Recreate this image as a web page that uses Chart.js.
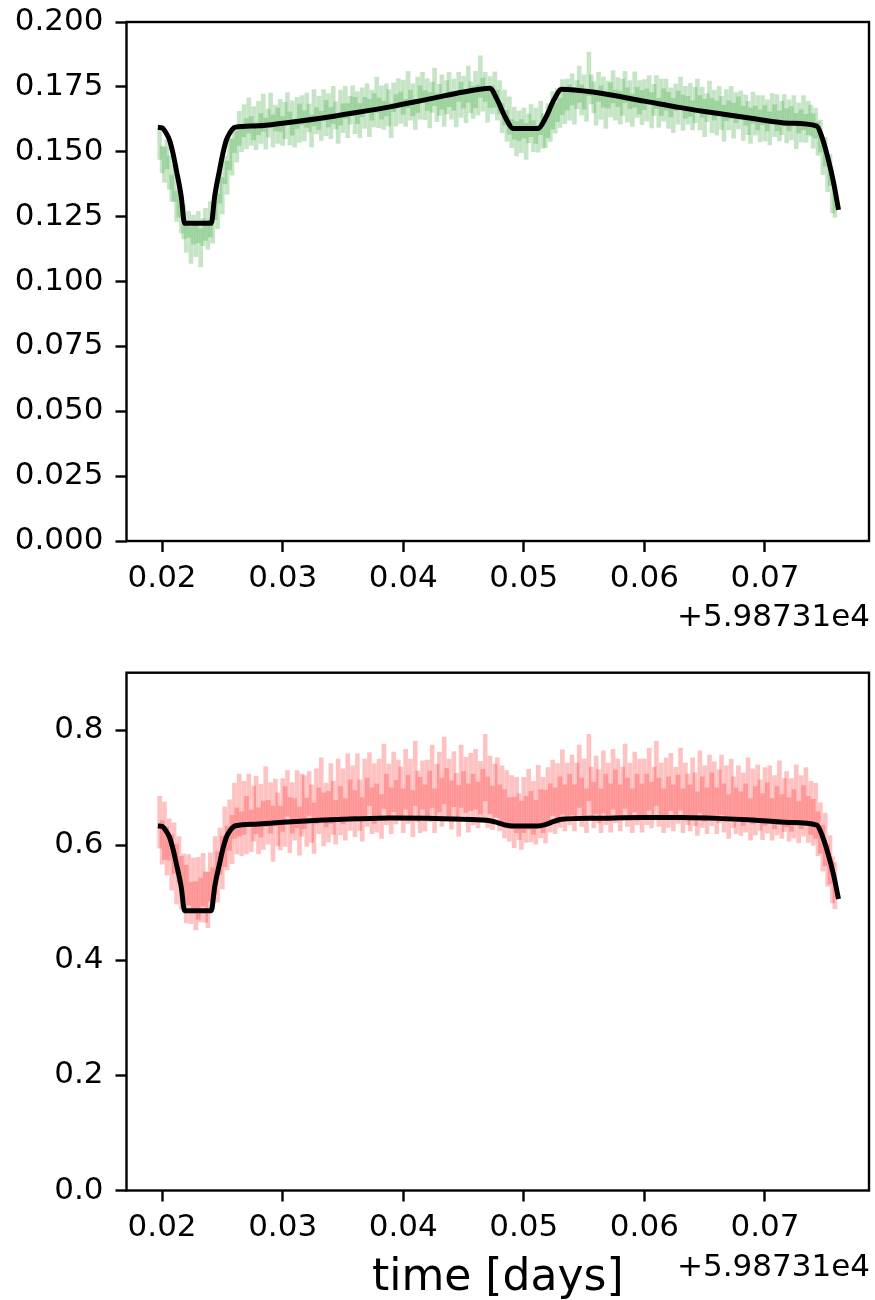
<!DOCTYPE html>
<html><head><meta charset="utf-8">
<script src="https://cdn.jsdelivr.net/npm/chart.js@4.4.0/dist/chart.umd.min.js"></script>
<style>
html,body{margin:0;padding:0;background:#fff;}
#wrap{position:relative;width:875px;height:1300px;}
canvas{position:absolute;left:0;}
</style></head><body>
<div id="wrap">
<canvas id="c1" width="875" height="650" style="top:0;width:875px;height:650px"></canvas>
<canvas id="c2" width="875" height="650" style="top:650px;width:875px;height:650px"></canvas>
</div>
<script>
// ---- data (time in days, offset +5.98731e4) ----
const TIME = [
0.0198,0.0200,0.0202,0.0204,0.0206,0.0208,0.0210,0.0212,0.0214,0.0216,
0.0218,0.0220,0.0222,0.0224,0.0226,0.0228,0.0230,0.0232,0.0234,0.0236,
0.0238,0.0240,0.0242,0.0244,0.0246,0.0248,0.0250,0.0252,0.0254,0.0256,
0.0258,0.0260,0.0262,0.0264,0.0266,0.0268,0.0270,0.0272,0.0274,0.0276,
0.0278,0.0280,0.0282,0.0284,0.0286,0.0288,0.0290,0.0292,0.0294,0.0296,
0.0298,0.0300,0.0302,0.0304,0.0306,0.0308,0.0310,0.0312,0.0314,0.0316,
0.0318,0.0320,0.0322,0.0324,0.0326,0.0328,0.0330,0.0332,0.0334,0.0336,
0.0338,0.0340,0.0342,0.0344,0.0346,0.0348,0.0350,0.0352,0.0354,0.0356,
0.0358,0.0360,0.0362,0.0364,0.0366,0.0368,0.0370,0.0372,0.0374,0.0376,
0.0378,0.0380,0.0382,0.0384,0.0386,0.0388,0.0390,0.0392,0.0394,0.0396,
0.0398,0.0400,0.0402,0.0404,0.0406,0.0408,0.0410,0.0412,0.0414,0.0416,
0.0418,0.0420,0.0422,0.0424,0.0426,0.0428,0.0430,0.0432,0.0434,0.0436,
0.0438,0.0440,0.0442,0.0444,0.0446,0.0448,0.0450,0.0452,0.0454,0.0456,
0.0458,0.0460,0.0462,0.0464,0.0466,0.0468,0.0470,0.0472,0.0474,0.0476,
0.0478,0.0480,0.0482,0.0484,0.0486,0.0488,0.0490,0.0492,0.0494,0.0496,
0.0498,0.0500,0.0502,0.0504,0.0506,0.0508,0.0510,0.0512,0.0514,0.0516,
0.0518,0.0520,0.0522,0.0524,0.0526,0.0528,0.0530,0.0532,0.0534,0.0536,
0.0538,0.0540,0.0542,0.0544,0.0546,0.0548,0.0550,0.0552,0.0554,0.0556,
0.0558,0.0560,0.0562,0.0564,0.0566,0.0568,0.0570,0.0572,0.0574,0.0576,
0.0578,0.0580,0.0582,0.0584,0.0586,0.0588,0.0590,0.0592,0.0594,0.0596,
0.0598,0.0600,0.0602,0.0604,0.0606,0.0608,0.0610,0.0612,0.0614,0.0616,
0.0618,0.0620,0.0622,0.0624,0.0626,0.0628,0.0630,0.0632,0.0634,0.0636,
0.0638,0.0640,0.0642,0.0644,0.0646,0.0648,0.0650,0.0652,0.0654,0.0656,
0.0658,0.0660,0.0662,0.0664,0.0666,0.0668,0.0670,0.0672,0.0674,0.0676,
0.0678,0.0680,0.0682,0.0684,0.0686,0.0688,0.0690,0.0692,0.0694,0.0696,
0.0698,0.0700,0.0702,0.0704,0.0706,0.0708,0.0710,0.0712,0.0714,0.0716,
0.0718,0.0720,0.0722,0.0724,0.0726,0.0728,0.0730,0.0732,0.0734,0.0736,
0.0738,0.0740,0.0742,0.0744,0.0746,0.0748,0.0750,0.0752,0.0754,0.0756,
0.0758];

const GREEN_FLUX = [
0.153,0.147,0.145,0.149,0.142,0.136,0.138,0.129,0.131,0.124,
0.123,0.117,0.122,0.114,0.120,0.116,0.121,0.113,0.119,0.122,
0.118,0.124,0.121,0.129,0.127,0.136,0.133,0.143,0.140,0.149,
0.148,0.155,0.152,0.159,0.155,0.162,0.157,0.164,0.158,0.161,
0.156,0.163,0.159,0.165,0.157,0.161,0.166,0.158,0.163,0.160,
0.164,0.158,0.162,0.167,0.159,0.163,0.157,0.165,0.161,0.166,
0.160,0.166,0.163,0.158,0.167,0.162,0.165,0.160,0.168,0.163,
0.166,0.161,0.168,0.164,0.159,0.167,0.163,0.169,0.162,0.166,
0.170,0.164,0.167,0.162,0.169,0.165,0.171,0.163,0.168,0.166,
0.172,0.165,0.169,0.164,0.170,0.167,0.162,0.171,0.166,0.173,
0.167,0.171,0.165,0.174,0.168,0.170,0.164,0.172,0.169,0.175,
0.168,0.172,0.166,0.171,0.175,0.167,0.170,0.173,0.165,0.171,
0.174,0.168,0.172,0.166,0.175,0.170,0.173,0.167,0.176,0.171,
0.169,0.174,0.170,0.179,0.172,0.175,0.168,0.173,0.170,0.174,
0.168,0.171,0.163,0.167,0.160,0.164,0.157,0.161,0.155,0.160,
0.156,0.161,0.154,0.159,0.162,0.156,0.160,0.155,0.163,0.158,
0.157,0.162,0.160,0.166,0.163,0.168,0.165,0.171,0.167,0.172,
0.169,0.174,0.167,0.172,0.176,0.170,0.173,0.168,0.180,0.174,
0.171,0.167,0.175,0.169,0.173,0.166,0.172,0.170,0.175,0.168,
0.173,0.167,0.171,0.175,0.168,0.172,0.166,0.174,0.169,0.171,
0.167,0.172,0.168,0.174,0.166,0.170,0.173,0.165,0.171,0.168,
0.172,0.166,0.169,0.164,0.171,0.167,0.173,0.165,0.169,0.166,
0.170,0.164,0.168,0.172,0.165,0.169,0.163,0.167,0.171,0.164,
0.168,0.163,0.170,0.165,0.161,0.168,0.164,0.169,0.162,0.167,
0.165,0.168,0.161,0.166,0.163,0.160,0.167,0.162,0.165,0.160,
0.166,0.161,0.164,0.159,0.167,0.162,0.165,0.160,0.163,0.166,
0.160,0.164,0.161,0.166,0.158,0.163,0.160,0.165,0.159,0.163,
0.162,0.158,0.161,0.155,0.156,0.148,0.150,0.141,0.143,0.133,
0.131];

const GREEN_ERR = [
0.0060,0.0052,0.0068,0.0056,0.0064,0.0050,0.0072,0.0058,0.0062,0.0054,
0.0066,0.0058,0.0050,0.0070,0.0056,0.0064,0.0060,0.0074,0.0052,0.0062,
0.0056,0.0068,0.0062,0.0052,0.0066,0.0058,0.0070,0.0054,0.0064,0.0060,
0.0070,0.0054,0.0060,0.0066,0.0050,0.0062,0.0058,0.0068,0.0056,0.0064,
0.0052,0.0064,0.0058,0.0072,0.0060,0.0054,0.0066,0.0062,0.0050,0.0068,
0.0062,0.0056,0.0070,0.0058,0.0064,0.0066,0.0052,0.0060,0.0074,0.0056,
0.0058,0.0066,0.0054,0.0062,0.0070,0.0050,0.0064,0.0056,0.0060,0.0068,
0.0064,0.0060,0.0072,0.0052,0.0058,0.0068,0.0056,0.0062,0.0066,0.0054,
0.0054,0.0070,0.0062,0.0066,0.0056,0.0060,0.0052,0.0072,0.0058,0.0064,
0.0068,0.0058,0.0064,0.0054,0.0062,0.0070,0.0066,0.0056,0.0060,0.0052,
0.0060,0.0066,0.0052,0.0070,0.0058,0.0062,0.0054,0.0068,0.0064,0.0056,
0.0056,0.0062,0.0068,0.0058,0.0072,0.0054,0.0060,0.0066,0.0052,0.0064,
0.0066,0.0054,0.0060,0.0064,0.0056,0.0068,0.0062,0.0058,0.0070,0.0060,
0.0062,0.0070,0.0058,0.0080,0.0064,0.0056,0.0066,0.0060,0.0054,0.0068,
0.0058,0.0064,0.0056,0.0068,0.0060,0.0072,0.0054,0.0062,0.0066,0.0058,
0.0064,0.0058,0.0070,0.0056,0.0062,0.0060,0.0068,0.0052,0.0064,0.0066,
0.0054,0.0066,0.0060,0.0072,0.0058,0.0064,0.0056,0.0068,0.0062,0.0060,
0.0068,0.0060,0.0064,0.0054,0.0070,0.0058,0.0066,0.0062,0.0084,0.0056,
0.0060,0.0068,0.0056,0.0064,0.0058,0.0070,0.0052,0.0066,0.0062,0.0058,
0.0056,0.0064,0.0070,0.0060,0.0066,0.0054,0.0062,0.0068,0.0058,0.0064,
0.0066,0.0058,0.0062,0.0054,0.0068,0.0060,0.0064,0.0056,0.0070,0.0062,
0.0060,0.0070,0.0056,0.0066,0.0052,0.0064,0.0058,0.0068,0.0062,0.0054,
0.0064,0.0056,0.0068,0.0060,0.0066,0.0058,0.0072,0.0054,0.0062,0.0066,
0.0058,0.0066,0.0052,0.0064,0.0070,0.0060,0.0056,0.0062,0.0068,0.0058,
0.0062,0.0054,0.0066,0.0058,0.0064,0.0068,0.0060,0.0056,0.0066,0.0062,
0.0056,0.0068,0.0060,0.0064,0.0054,0.0062,0.0070,0.0058,0.0064,0.0060,
0.0066,0.0060,0.0064,0.0056,0.0068,0.0058,0.0062,0.0066,0.0054,0.0064,
0.0060,0.0066,0.0058,0.0064,0.0062,0.0068,0.0056,0.0064,0.0060,0.0066,
0.0062];

const RED_FLUX = [
0.640,0.605,0.625,0.590,0.610,0.570,0.595,0.550,0.575,0.535,
0.545,0.515,0.540,0.500,0.530,0.495,0.525,0.505,0.540,0.510,
0.505,0.545,0.525,0.565,0.545,0.590,0.570,0.615,0.595,0.635,
0.610,0.660,0.625,0.670,0.620,0.665,0.635,0.680,0.625,0.655,
0.670,0.625,0.660,0.635,0.685,0.640,0.665,0.620,0.675,0.645,
0.630,0.670,0.650,0.690,0.635,0.665,0.645,0.680,0.625,0.670,
0.675,0.640,0.690,0.655,0.630,0.685,0.660,0.700,0.645,0.670,
0.650,0.690,0.665,0.640,0.700,0.660,0.685,0.645,0.705,0.670,
0.690,0.655,0.705,0.670,0.645,0.700,0.675,0.715,0.660,0.690,
0.665,0.700,0.650,0.720,0.680,0.695,0.660,0.710,0.675,0.700,
0.690,0.660,0.715,0.680,0.700,0.655,0.725,0.685,0.670,0.705,
0.665,0.700,0.685,0.720,0.660,0.695,0.710,0.675,0.730,0.690,
0.700,0.670,0.715,0.685,0.660,0.720,0.690,0.705,0.665,0.710,
0.680,0.715,0.670,0.700,0.690,0.735,0.675,0.705,0.665,0.695,
0.700,0.665,0.690,0.655,0.680,0.645,0.675,0.640,0.670,0.650,
0.635,0.670,0.645,0.680,0.650,0.665,0.640,0.685,0.655,0.670,
0.650,0.685,0.665,0.700,0.660,0.690,0.675,0.710,0.665,0.695,
0.680,0.705,0.665,0.695,0.720,0.675,0.700,0.660,0.735,0.690,
0.670,0.705,0.685,0.660,0.710,0.680,0.695,0.665,0.715,0.685,
0.700,0.665,0.690,0.720,0.675,0.695,0.660,0.710,0.680,0.700,
0.665,0.700,0.680,0.715,0.670,0.690,0.725,0.675,0.695,0.660,
0.700,0.675,0.710,0.665,0.690,0.680,0.715,0.660,0.695,0.680,
0.665,0.700,0.680,0.655,0.710,0.675,0.690,0.660,0.705,0.680,
0.695,0.660,0.685,0.705,0.665,0.690,0.650,0.700,0.675,0.660,
0.690,0.655,0.680,0.665,0.700,0.645,0.685,0.660,0.690,0.670,
0.650,0.685,0.665,0.690,0.645,0.675,0.660,0.695,0.650,0.670,
0.680,0.645,0.670,0.655,0.690,0.640,0.675,0.660,0.685,0.645,
0.665,0.640,0.660,0.620,0.630,0.595,0.610,0.565,0.575,0.540,
0.530];

const RED_ERR = [
0.045,0.038,0.050,0.042,0.036,0.048,0.044,0.052,0.040,0.046,
0.040,0.050,0.044,0.036,0.048,0.042,0.054,0.038,0.046,0.044,
0.048,0.042,0.036,0.050,0.044,0.040,0.046,0.052,0.038,0.044,
0.042,0.048,0.040,0.054,0.038,0.046,0.050,0.044,0.036,0.048,
0.050,0.040,0.046,0.042,0.052,0.038,0.044,0.048,0.040,0.046,
0.038,0.046,0.052,0.040,0.048,0.044,0.036,0.050,0.042,0.054,
0.046,0.042,0.038,0.050,0.044,0.048,0.040,0.052,0.046,0.038,
0.044,0.052,0.046,0.038,0.050,0.042,0.048,0.036,0.054,0.044,
0.048,0.040,0.054,0.044,0.038,0.050,0.042,0.046,0.040,0.052,
0.042,0.050,0.038,0.056,0.044,0.046,0.040,0.052,0.038,0.048,
0.046,0.038,0.052,0.042,0.050,0.040,0.056,0.044,0.048,0.042,
0.040,0.048,0.044,0.054,0.038,0.046,0.052,0.042,0.058,0.044,
0.050,0.042,0.048,0.040,0.044,0.054,0.038,0.048,0.042,0.050,
0.044,0.052,0.040,0.046,0.042,0.058,0.044,0.050,0.038,0.046,
0.052,0.040,0.048,0.042,0.050,0.038,0.046,0.044,0.048,0.040,
0.042,0.048,0.040,0.052,0.044,0.046,0.038,0.054,0.042,0.048,
0.046,0.050,0.042,0.048,0.040,0.052,0.044,0.056,0.040,0.048,
0.044,0.052,0.040,0.048,0.054,0.042,0.050,0.038,0.058,0.046,
0.040,0.050,0.046,0.038,0.054,0.044,0.048,0.042,0.052,0.046,
0.050,0.040,0.046,0.056,0.042,0.048,0.038,0.052,0.044,0.050,
0.042,0.050,0.044,0.054,0.040,0.046,0.056,0.042,0.048,0.038,
0.052,0.044,0.050,0.040,0.046,0.042,0.054,0.038,0.048,0.044,
0.040,0.052,0.046,0.038,0.054,0.044,0.048,0.040,0.052,0.046,
0.050,0.040,0.046,0.052,0.042,0.048,0.038,0.050,0.044,0.040,
0.048,0.038,0.046,0.042,0.052,0.036,0.048,0.042,0.050,0.044,
0.040,0.050,0.044,0.048,0.036,0.046,0.042,0.052,0.038,0.046,
0.048,0.038,0.046,0.042,0.050,0.036,0.046,0.044,0.050,0.040,
0.046,0.040,0.048,0.038,0.044,0.040,0.046,0.036,0.042,0.040,
0.040];

const MODEL_TIME = [0.01965,0.0200,0.0203,0.02062,0.0209,0.02118,0.02159,0.02187,0.02408,0.02436,
0.02477,0.02505,0.02533,0.02565,0.02595,0.0261,0.0280,0.0300,0.0330,0.0360,
0.0390,0.0420,0.0450,0.04718,0.0478,0.0485,0.04911,0.05119,0.0518,0.0525,
0.05313,0.0560,0.0600,0.0630,0.0660,0.0690,0.0720,0.0743,0.0747,0.0752,
0.0757,0.0761];
const GREEN_MODEL = [0.1594,0.1592,0.1575,0.1545,0.1495,0.1430,0.1327,0.1224,0.1224,0.1327,
0.1430,0.1495,0.1545,0.1575,0.1592,0.1595,0.1600,0.1610,0.1628,0.1650,
0.1674,0.1702,0.1730,0.1745,0.1700,0.1630,0.1590,0.1590,0.1630,0.1700,
0.1741,0.1728,0.1695,0.1670,0.1648,0.1628,0.1610,0.1599,0.1560,0.1480,
0.1380,0.1276];
const RED_MODEL = [0.6335,0.6327,0.6259,0.6140,0.5941,0.5683,0.5273,0.4863,0.4863,0.5273,
0.5683,0.5941,0.6140,0.6259,0.6327,0.6340,0.6370,0.6400,0.6435,0.6460,
0.6475,0.6472,0.6452,0.6427,0.6395,0.6350,0.6335,0.6335,0.6360,0.6415,
0.6451,0.6470,0.6485,0.6482,0.6468,0.6440,0.6398,0.6352,0.6196,0.5879,
0.5480,0.5066];

const X_TICKS = [0.02,0.03,0.04,0.05,0.06,0.07];
const TOP_Y_TICKS = [0,0.025,0.05,0.075,0.1,0.125,0.15,0.175,0.2];
const BOTTOM_Y_TICKS = [0,0.2,0.4,0.6,0.8];
const OFFSET_LABEL = '+5.98731e4';
const X_LABEL = 'time [days]';
const X_MIN = 0.01705, X_MAX = 0.07863;

// ---- drawing ----
const FONT = 'DejaVu Sans';
const TICK_SIZE = 31;
const framePlugin = {
  id: 'frame',
  afterDatasetsDraw(chart) {
    const {ctx, chartArea: a} = chart;
    ctx.save();
    ctx.strokeStyle = '#000';
    ctx.lineWidth = 2.4;
    ctx.strokeRect(a.left, a.top, a.right - a.left, a.bottom - a.top);
    ctx.restore();
  }
};
const textPlugin = {
  id: 'texts',
  afterDraw(chart, args, opts) {
    const {ctx, chartArea: a} = chart;
    ctx.save();
    ctx.fillStyle = '#000';
    ctx.textBaseline = 'alphabetic';
    ctx.font = TICK_SIZE + 'px "' + FONT + '"';
    ctx.textAlign = 'right';
    ctx.fillText(OFFSET_LABEL, a.right + 1, a.bottom + 85);
    if (opts && opts.xlabel) {
      ctx.font = '44px "' + FONT + '"';
      ctx.textAlign = 'center';
      ctx.fillText(opts.xlabel, (a.left + a.right) / 2, a.bottom + 99);
    }
    ctx.restore();
  }
};

function makeChart(id, flux, err, model, color, yMax, yTicks, yDigits, topPad, xH, xlabel) {
  const bars = TIME.map((t, i) => ({x: t, y: [flux[i] - err[i], flux[i] + err[i]]}));
  const line = MODEL_TIME.map((t, i) => ({x: t, y: model[i]}));
  const tickFont = {family: FONT, size: TICK_SIZE};
  return new Chart(document.getElementById(id), {
    type: 'bar',
    data: {datasets: [
      {type: 'line', data: line, borderColor: '#000', borderWidth: 5, pointRadius: 0,
       cubicInterpolationMode: 'monotone', fill: false, order: 0, borderJoinStyle: 'round'},
      {type: 'bar', data: bars, backgroundColor: color, borderWidth: 0, barThickness: 4,
       grouped: false, order: 1}
    ]},
    options: {
      responsive: false, animation: false, events: [],
      layout: {padding: {left: 0, right: 6, top: topPad, bottom: 0}},
      plugins: {legend: {display: false}, tooltip: {enabled: false}, texts: {xlabel: xlabel}},
      scales: {
        x: {
          type: 'linear', min: X_MIN, max: X_MAX, offset: false,
          afterFit: s => { s.height = xH; s.paddingLeft = 0; s.paddingRight = 0; },
          afterBuildTicks: s => { s.ticks = X_TICKS.map(v => ({value: v})); },
          grid: {display: true, drawOnChartArea: false, drawTicks: true, tickLength: 11,
                 tickWidth: 2.4, tickColor: '#000', offset: false},
          border: {display: false},
          ticks: {color: '#000', font: tickFont, padding: 8, maxRotation: 0, autoSkip: false,
                  callback: v => Number(v).toFixed(2)}
        },
        y: {
          type: 'linear', min: 0, max: yMax,
          afterFit: s => { s.width = 126.5; s.paddingTop = 0; s.paddingBottom = 0; },
          afterBuildTicks: s => { s.ticks = yTicks.map(v => ({value: v})); },
          grid: {display: true, drawOnChartArea: false, drawTicks: true, tickLength: 11,
                 tickWidth: 2.4, tickColor: '#000'},
          border: {display: false},
          ticks: {color: '#000', font: tickFont, padding: 12, autoSkip: false,
                  callback: v => Number(v).toFixed(yDigits)}
        }
      }
    },
    plugins: [framePlugin, textPlugin]
  });
}

makeChart('c1', GREEN_FLUX, GREEN_ERR, GREEN_MODEL, 'rgba(44,160,44,0.27)', 0.2, TOP_Y_TICKS, 3, 22, 109, null);
makeChart('c2', RED_FLUX, RED_ERR, RED_MODEL, 'rgba(255,0,0,0.24)', 0.9, BOTTOM_Y_TICKS, 1, 22.7, 109.5, X_LABEL);
</script>
</body></html>
